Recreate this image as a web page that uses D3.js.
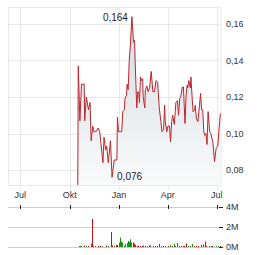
<!DOCTYPE html>
<html><head><meta charset="utf-8">
<script src="https://cdn.jsdelivr.net/npm/d3@7"></script>
<style>
body{margin:0;background:#fff}
svg{display:block;font-family:"Liberation Sans",Arial,sans-serif}
</style></head><body>
<svg id="chart" width="264" height="255"></svg>
<script>
// price series
const priceDates = ["2023-10-16","2023-10-17","2023-10-20","2023-10-23","2023-10-28","2023-10-29","2023-11-01","2023-11-05","2023-11-08","2023-11-10",
  "2023-11-13","2023-11-15","2023-11-19","2023-11-23","2023-11-26","2023-12-02","2023-12-04","2023-12-07","2023-12-09","2023-12-12",
  "2023-12-16","2023-12-19","2023-12-23","2023-12-28","2023-12-29","2023-12-31","2024-01-06","2024-01-08","2024-01-11","2024-01-12",
  "2024-01-15","2024-01-16","2024-01-18","2024-01-20","2024-01-22","2024-01-25","2024-01-28","2024-01-30","2024-01-31","2024-02-03",
  "2024-02-05","2024-02-07","2024-02-08","2024-02-10","2024-02-12","2024-02-14","2024-02-15","2024-02-18","2024-02-19","2024-02-22",
  "2024-02-24","2024-02-27","2024-03-01","2024-03-04","2024-03-07","2024-03-10","2024-03-13","2024-03-16","2024-03-19","2024-03-21",
  "2024-03-24","2024-03-26","2024-03-27","2024-03-30","2024-04-01","2024-04-04","2024-04-06","2024-04-08","2024-04-10","2024-04-13",
  "2024-04-16","2024-04-19","2024-04-21","2024-04-23","2024-04-25","2024-04-28","2024-04-30","2024-05-03","2024-05-05","2024-05-07",
  "2024-05-08","2024-05-10","2024-05-13","2024-05-14","2024-05-16","2024-05-18","2024-05-21","2024-05-22","2024-05-24","2024-05-27",
  "2024-05-30","2024-06-01","2024-06-03","2024-06-05","2024-06-07","2024-06-09","2024-06-11","2024-06-13","2024-06-15","2024-06-18",
  "2024-06-20","2024-06-23","2024-06-24","2024-06-27","2024-06-30","2024-07-03","2024-07-05","2024-07-08"];
const priceValues = [0.070,0.137,0.107,0.127,0.127,0.107,0.120,0.113,0.117,0.096,
  0.104,0.101,0.101,0.103,0.101,0.084,0.098,0.091,0.093,0.084,
  0.096,0.076,0.0855,0.0855,0.109,0.101,0.101,0.112,0.113,0.119,
  0.121,0.127,0.124,0.140,0.148,0.164,0.150,0.151,0.140,0.114,
  0.123,0.122,0.117,0.131,0.129,0.130,0.120,0.114,0.124,0.126,
  0.123,0.125,0.134,0.123,0.123,0.129,0.128,0.114,0.1065,0.101,
  0.102,0.1155,0.107,0.101,0.104,0.104,0.0955,0.1065,0.110,0.105,
  0.117,0.118,0.110,0.119,0.120,0.1255,0.1255,0.1055,0.121,0.1265,
  0.125,0.129,0.125,0.131,0.121,0.112,0.113,0.1155,0.1085,0.1065,
  0.1155,0.122,0.113,0.113,0.101,0.099,0.100,0.094,0.112,0.101,
  0.100,0.0965,0.095,0.0845,0.092,0.093,0.101,0.111];

// volume series, millions; 1 = up day (green), 0 = down day (red)
const volDates = ["2023-10-18","2023-10-21","2023-10-23","2023-10-27","2023-10-31","2023-11-04","2023-11-09","2023-11-12","2023-11-14","2023-11-17",
  "2023-11-22","2023-11-27","2023-12-01","2023-12-08","2023-12-12","2023-12-17","2023-12-19","2023-12-22","2023-12-26","2023-12-28",
  "2023-12-31","2024-01-03","2024-01-05","2024-01-07","2024-01-10","2024-01-12","2024-01-15","2024-01-17","2024-01-20","2024-01-22",
  "2024-01-24","2024-01-27","2024-01-29","2024-01-31","2024-02-03","2024-02-06","2024-02-09","2024-02-12","2024-02-15","2024-02-18",
  "2024-02-22","2024-02-26","2024-02-28","2024-03-04","2024-03-08","2024-03-12","2024-03-15","2024-03-19","2024-03-23","2024-03-26",
  "2024-04-01","2024-04-05","2024-04-09","2024-04-12","2024-04-15","2024-04-18","2024-04-22","2024-04-25","2024-04-29","2024-05-02",
  "2024-05-05","2024-05-08","2024-05-12","2024-05-16","2024-05-20","2024-05-24","2024-05-27","2024-06-01","2024-06-05","2024-06-09",
  "2024-06-12","2024-06-16","2024-06-20","2024-06-23","2024-06-30","2024-07-04","2024-07-07"];
const volValues = [0.1,0.1,0.1,0.15,0.1,0.1,0.35,2.8,0.1,0.1,
  0.1,0.1,0.1,0.15,0.1,1.5,0.15,0.1,0.2,0.2,
  0.45,0.95,0.55,0.45,0.1,0.3,0.4,0.6,0.5,0.77,
  0.45,0.45,0.35,0.2,0.1,0.1,0.1,0.1,0.15,0.1,
  0.1,0.15,0.15,0.1,0.1,0.1,0.3,0.1,0.1,0.1,
  0.1,0.2,0.1,0.3,0.1,0.4,0.1,0.1,0.1,0.1,
  0.35,0.1,0.1,0.3,0.1,0.1,0.1,0.2,0.25,0.55,
  0.1,0.1,0.1,0.1,0.1,0.1,0.1];
const volUp = [1,1,1,0,1,0,1,0,1,1,
  0,0,1,0,1,0,0,1,0,0,
  1,1,1,1,1,1,1,1,1,1,
  1,0,0,1,0,0,0,0,1,0,
  1,0,0,0,0,0,0,1,0,1,
  0,1,0,1,0,1,0,0,1,0,
  0,1,1,1,0,0,0,0,0,0,
  0,0,0,0,1,1,0];

const priceTicks = [0.08, 0.10, 0.12, 0.14, 0.16];
const volTicks = [0, 2, 4];
const monthTicks = ["2023-07-01","2023-10-01","2024-01-01","2024-04-01","2024-07-01"];
const monthLabels = ["Jul","Okt","Jan","Apr","Jul"];

const parse = d3.timeParse("%Y-%m-%d");
const price = priceDates.map((d, i) => ({ date: parse(d), value: priceValues[i] }));
const volume = volDates.map((d, i) => ({ date: parse(d), value: volValues[i], up: volUp[i] }));
const months = monthTicks.map(parse);
const fmt = v => d3.format(".2f")(v).replace(".", ",");
const fmt3 = v => d3.format(".3f")(v).replace(".", ",");

const svg = d3.select("#chart");
const pLeft = 8, pRight = 221.5;
const pTop = 7, pBottom = 185;
const vTop = 207, vBottom = 247;

const x = d3.scaleTime()
  .domain([parse("2023-06-08"), parse("2024-07-10")])
  .range([pLeft, pRight]);
const y = d3.scaleLinear()
  .domain([0.0718, 0.1693])
  .range([pBottom, pTop]);
const yv = d3.scaleLinear()
  .domain([0, 4])
  .range([vBottom, vTop]);

const defs = svg.append("defs");
defs.append("clipPath").attr("id", "clip")
  .append("rect").attr("x", pLeft).attr("y", pTop).attr("width", pRight - pLeft).attr("height", pBottom - pTop);
const grad = defs.append("linearGradient").attr("id", "fade")
  .attr("x1", 0).attr("y1", 0).attr("x2", 0).attr("y2", 1);
grad.append("stop").attr("offset", "0%").attr("stop-color", "#d4dbe1");
grad.append("stop").attr("offset", "100%").attr("stop-color", "#fafbfb");

// grid
svg.append("g").selectAll("line").data(priceTicks).join("line")
  .attr("x1", pLeft).attr("x2", pRight)
  .attr("y1", d => Math.round(y(d)) + 0.5).attr("y2", d => Math.round(y(d)) + 0.5)
  .attr("stroke", "#e8e8e8");
svg.append("g").selectAll("line").data(months).join("line")
  .attr("x1", d => Math.round(x(d)) + 0.5).attr("x2", d => Math.round(x(d)) + 0.5)
  .attr("y1", pTop).attr("y2", pBottom + 5)
  .attr("stroke", "#e8e8e8");
svg.append("rect")
  .attr("x", pLeft + 0.5).attr("y", pTop + 0.5)
  .attr("width", pRight - pLeft - 1).attr("height", pBottom - pTop)
  .attr("fill", "none").attr("stroke", "#e8e8e8");

// area + line
const plot = svg.append("g").attr("clip-path", "url(#clip)");
plot.append("path").datum(price)
  .attr("fill", "url(#fade)")
  .attr("d", d3.area().x(d => x(d.date)).y0(pBottom).y1(d => y(d.value)));
plot.append("path").datum(price)
  .attr("fill", "none").attr("stroke", "#b9272d").attr("stroke-width", 1)
  .attr("stroke-linejoin", "round")
  .attr("d", d3.line().x(d => x(d.date)).y(d => y(d.value)));

// max / min labels
const shown = price.slice(1);
const hi = shown.reduce((a, b) => b.value > a.value ? b : a);
const lo = shown.reduce((a, b) => b.value < a.value ? b : a);
svg.append("text").attr("x", x(hi.date) - 4).attr("y", y(hi.value) + 4)
  .attr("text-anchor", "end").attr("font-size", 10).attr("fill", "#222").text(fmt3(hi.value));
svg.append("text").attr("x", x(lo.date) + 5).attr("y", y(lo.value) + 3)
  .attr("font-size", 10).attr("fill", "#222").text(fmt3(lo.value));

// y labels
svg.append("g").selectAll("text").data(priceTicks).join("text")
  .attr("x", 226).attr("y", d => y(d)).attr("dy", "0.35em")
  .attr("font-size", 9).attr("fill", "#333").text(fmt);

// x labels
svg.append("g").selectAll("text").data(months).join("text")
  .attr("x", d => x(d)).attr("y", 198).attr("text-anchor", "middle")
  .attr("font-size", 9).attr("fill", "#333")
  .text((d, i) => monthLabels[i]);

// volume panel
svg.append("g").selectAll("line").data(volTicks).join("line")
  .attr("x1", pLeft).attr("x2", 220)
  .attr("y1", d => Math.round(yv(d)) + 0.5).attr("y2", d => Math.round(yv(d)) + 0.5)
  .attr("stroke", "#cccccc");
svg.append("g").selectAll("line").data(volTicks).join("line")
  .attr("x1", 219).attr("x2", 223)
  .attr("y1", d => Math.round(yv(d)) + 0.5).attr("y2", d => Math.round(yv(d)) + 0.5)
  .attr("stroke", "#222");
svg.append("g").selectAll("line").data(months).join("line")
  .attr("x1", d => Math.round(x(d)) + 0.5).attr("x2", d => Math.round(x(d)) + 0.5)
  .attr("y1", vTop - 2).attr("y2", vTop + 2)
  .attr("stroke", "#222");
svg.append("g").selectAll("text").data(volTicks).join("text")
  .attr("x", 226).attr("y", d => yv(d)).attr("dy", "0.35em")
  .attr("font-size", 9).attr("fill", "#333").text(d => d + "M");
svg.append("g").selectAll("rect").data(volume).join("rect")
  .attr("x", d => Math.round(x(d.date))).attr("width", 1)
  .attr("y", d => yv(d.value)).attr("height", d => vBottom - yv(d.value))
  .attr("fill", d => d.up ? "#1a8c1a" : "#c41414");
</script>
</body></html>
